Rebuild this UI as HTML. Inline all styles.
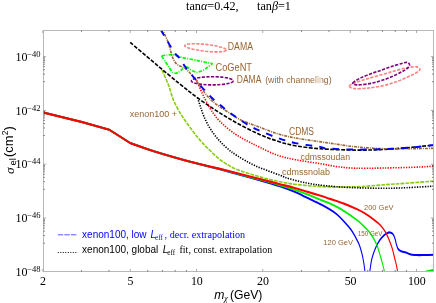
<!DOCTYPE html><html><head><meta charset="utf-8"><title>plot</title><style>html,body{margin:0;padding:0;background:#fff}svg{display:block}text{white-space:pre}.s{font-family:"Liberation Serif",serif}.h{font-family:"Liberation Sans",sans-serif}.b{fill:#996633}</style></head><body>
<svg width="436" height="303" viewBox="0 0 436 303">
<rect width="436" height="303" fill="#fff"/>
<defs><clipPath id="c"><rect x="43.50" y="30.50" width="390.00" height="241.00"/></clipPath></defs>
<g clip-path="url(#c)" fill="none" stroke-linejoin="round">
<path d="M226.27 50.09C226.25 50.27 226.15 50.44 225.96 50.59C225.77 50.75 225.49 50.89 225.14 51.03C224.79 51.16 224.35 51.28 223.84 51.38C223.33 51.48 222.74 51.57 222.09 51.64C221.43 51.71 220.71 51.77 219.93 51.81C219.15 51.85 218.30 51.88 217.41 51.88C216.52 51.89 215.57 51.88 214.60 51.85C213.62 51.83 212.60 51.78 211.56 51.72C210.53 51.66 209.45 51.59 208.38 51.50C207.31 51.41 206.21 51.30 205.13 51.18C204.04 51.06 202.95 50.92 201.88 50.78C200.81 50.63 199.75 50.47 198.73 50.31C197.70 50.14 196.69 49.96 195.74 49.77C194.78 49.58 193.85 49.39 192.99 49.19C192.12 48.99 191.30 48.78 190.55 48.57C189.79 48.36 189.10 48.14 188.47 47.93C187.85 47.72 187.30 47.50 186.82 47.29C186.35 47.08 185.94 46.87 185.63 46.66C185.31 46.46 185.07 46.26 184.92 46.06C184.77 45.87 184.71 45.68 184.73 45.51C184.75 45.33 184.85 45.16 185.04 45.01C185.23 44.85 185.51 44.71 185.86 44.57C186.21 44.44 186.65 44.32 187.16 44.22C187.67 44.12 188.26 44.03 188.91 43.96C189.57 43.89 190.29 43.83 191.07 43.79C191.85 43.75 192.70 43.72 193.59 43.72C194.48 43.71 195.43 43.72 196.40 43.75C197.38 43.77 198.40 43.82 199.44 43.88C200.47 43.94 201.55 44.01 202.62 44.10C203.69 44.19 204.79 44.30 205.87 44.42C206.96 44.54 208.05 44.68 209.12 44.82C210.19 44.97 211.25 45.13 212.27 45.29C213.30 45.46 214.31 45.64 215.26 45.83C216.22 46.02 217.15 46.21 218.01 46.41C218.88 46.61 219.70 46.82 220.45 47.03C221.21 47.24 221.90 47.46 222.53 47.67C223.15 47.88 223.70 48.10 224.18 48.31C224.65 48.52 225.06 48.73 225.37 48.94C225.69 49.14 225.93 49.34 226.08 49.54C226.23 49.73 226.29 49.92 226.27 50.09Z" stroke="#ff8080" stroke-width="1.6" stroke-dasharray="3.2 1.4"/>
<path d="M349.30 86.10C349.30 85.17 351.58 84.20 354.50 83.00C357.42 81.80 362.33 80.27 366.80 78.90C371.27 77.53 376.48 76.18 381.30 74.80C386.12 73.42 391.23 71.82 395.70 70.60C400.17 69.38 404.65 68.12 408.10 67.50C411.55 66.88 414.43 66.62 416.40 66.90C418.37 67.18 419.90 68.23 419.90 69.20C419.90 70.17 418.37 71.43 416.40 72.70C414.43 73.97 411.55 75.25 408.10 76.80C404.65 78.35 400.17 80.45 395.70 82.00C391.23 83.55 386.12 85.07 381.30 86.10C376.48 87.13 371.27 87.78 366.80 88.20C362.33 88.62 357.42 88.95 354.50 88.60C351.58 88.25 349.30 87.03 349.30 86.10Z" stroke="#ff8080" stroke-width="1.6" stroke-dasharray="3.2 1.4"/>
<path d="M233.20 80.80C233.20 81.01 233.11 81.23 232.94 81.44C232.77 81.65 232.51 81.86 232.18 82.07C231.84 82.27 231.42 82.47 230.92 82.66C230.43 82.85 229.85 83.04 229.21 83.21C228.57 83.38 227.85 83.55 227.08 83.70C226.31 83.85 225.47 83.99 224.58 84.12C223.70 84.24 222.76 84.36 221.79 84.45C220.82 84.55 219.79 84.63 218.76 84.70C217.72 84.77 216.65 84.82 215.57 84.85C214.49 84.88 213.39 84.90 212.30 84.90C211.21 84.90 210.11 84.88 209.03 84.85C207.95 84.82 206.88 84.77 205.84 84.70C204.81 84.63 203.78 84.55 202.81 84.45C201.84 84.36 200.90 84.24 200.02 84.12C199.13 83.99 198.29 83.85 197.52 83.70C196.75 83.55 196.03 83.38 195.39 83.21C194.75 83.04 194.17 82.85 193.68 82.66C193.18 82.47 192.76 82.27 192.42 82.07C192.09 81.86 191.83 81.65 191.66 81.44C191.49 81.23 191.40 81.01 191.40 80.80C191.40 80.59 191.49 80.37 191.66 80.16C191.83 79.95 192.09 79.74 192.42 79.53C192.76 79.33 193.18 79.13 193.68 78.94C194.17 78.75 194.75 78.56 195.39 78.39C196.03 78.22 196.75 78.05 197.52 77.90C198.29 77.75 199.13 77.61 200.02 77.48C200.90 77.36 201.84 77.24 202.81 77.15C203.78 77.05 204.81 76.97 205.84 76.90C206.88 76.83 207.95 76.78 209.03 76.75C210.11 76.72 211.21 76.70 212.30 76.70C213.39 76.70 214.49 76.72 215.57 76.75C216.65 76.78 217.72 76.83 218.76 76.90C219.79 76.97 220.82 77.05 221.79 77.15C222.76 77.24 223.70 77.36 224.58 77.48C225.47 77.61 226.31 77.75 227.08 77.90C227.85 78.05 228.57 78.22 229.21 78.39C229.85 78.56 230.43 78.75 230.92 78.94C231.42 79.13 231.84 79.33 232.18 79.53C232.51 79.74 232.77 79.95 232.94 80.16C233.11 80.37 233.20 80.59 233.20 80.80Z" stroke="#800080" stroke-width="1.6" stroke-dasharray="3.2 1.4"/>
<path d="M352.80 83.00C353.65 81.87 357.57 79.45 360.60 77.90C363.63 76.35 367.55 74.98 371.00 73.70C374.45 72.42 377.87 71.40 381.30 70.20C384.73 69.00 388.17 67.63 391.60 66.50C395.03 65.37 399.32 64.08 401.90 63.40C404.48 62.72 405.82 62.15 407.10 62.40C408.38 62.65 409.60 63.87 409.60 64.90C409.60 65.93 408.38 67.47 407.10 68.60C405.82 69.73 404.48 70.33 401.90 71.70C399.32 73.07 395.03 75.32 391.60 76.80C388.17 78.28 384.73 79.50 381.30 80.60C377.87 81.70 374.45 82.72 371.00 83.40C367.55 84.08 363.18 84.48 360.60 84.70C358.02 84.92 356.80 84.98 355.50 84.70C354.20 84.42 351.95 84.13 352.80 83.00Z" stroke="#800080" stroke-width="1.6" stroke-dasharray="3.2 1.4"/>
<path d="M161.70 55.80C161.96 55.64 166.32 55.06 167.00 55.00C167.68 54.94 172.06 54.64 173.00 54.80C173.94 54.96 181.28 57.26 182.70 57.60C184.12 57.94 194.94 60.06 196.60 60.40C198.26 60.74 209.47 63.00 210.40 63.20C211.33 63.40 212.26 63.45 212.10 63.70C211.94 63.95 208.30 66.87 207.70 67.30C207.10 67.73 202.77 70.49 202.10 70.80C201.43 71.11 197.18 72.40 196.60 72.40C196.02 72.40 192.94 71.11 192.40 70.80C191.86 70.49 188.06 67.55 187.60 67.30C187.14 67.05 185.14 66.47 184.80 66.60C184.46 66.73 182.37 69.06 182.00 69.40C181.63 69.74 178.97 71.97 178.60 72.20C178.23 72.43 176.18 73.30 175.80 73.30C175.42 73.30 172.71 72.56 172.30 72.20C171.89 71.84 169.31 67.92 168.90 67.30C168.49 66.68 165.78 62.38 165.40 61.80C165.02 61.22 162.82 57.96 162.60 57.60C162.38 57.24 161.44 55.96 161.70 55.80Z" stroke="#00ff00" stroke-width="1.7" stroke-dasharray="3.5 1.3 1 1.3"/>
<path d="M162.00 70.00C163.07 72.47 166.47 79.72 168.40 84.80C170.33 89.88 171.50 95.57 173.60 100.50C175.70 105.43 178.40 110.10 181.00 114.40C183.60 118.70 186.28 122.30 189.20 126.30C192.12 130.30 195.42 134.73 198.50 138.40C201.58 142.07 204.37 144.98 207.70 148.30C211.03 151.62 215.17 155.55 218.50 158.30C221.83 161.05 224.62 162.92 227.70 164.80C230.78 166.68 232.38 167.80 237.00 169.60C241.62 171.40 249.90 173.93 255.40 175.60C260.90 177.27 265.90 178.57 270.00 179.60C274.10 180.63 276.92 181.18 280.00 181.80C283.08 182.42 286.18 182.90 288.50 183.30C290.82 183.70 290.70 183.82 293.90 184.20C297.10 184.58 303.08 185.20 307.70 185.60C312.32 186.00 316.22 186.37 321.60 186.60C326.98 186.83 335.27 186.97 340.00 187.00C344.73 187.03 346.32 186.88 350.00 186.80C353.68 186.72 356.40 186.83 362.10 186.50C367.80 186.17 376.82 185.35 384.20 184.80C391.58 184.25 397.93 183.83 406.40 183.20C414.87 182.57 430.23 181.37 435.00 181.00" stroke="#88cc11" stroke-width="1.6" stroke-dasharray="3.8 1.1"/>
<path d="M197.60 97.90C198.05 99.28 199.23 103.08 200.30 106.20C201.37 109.32 202.45 113.02 204.00 116.60C205.55 120.18 207.43 124.15 209.60 127.70C211.77 131.25 214.23 134.62 217.00 137.90C219.77 141.18 222.87 144.45 226.20 147.40C229.53 150.35 232.13 152.53 237.00 155.60C241.87 158.67 248.23 162.53 255.40 165.80C262.57 169.07 274.48 173.08 280.00 175.20C285.52 177.32 284.00 177.18 288.50 178.50C293.00 179.82 300.85 181.90 307.00 183.10C313.15 184.30 318.23 184.97 325.40 185.70C332.57 186.43 340.20 187.07 350.00 187.50C359.80 187.93 374.80 188.27 384.20 188.30C393.60 188.33 397.93 188.07 406.40 187.70C414.87 187.33 430.23 186.37 435.00 186.10" stroke="#000" stroke-width="1.6" stroke-dasharray="1.3 1.3"/>
<path d="M196.60 80.30C197.53 82.47 200.58 89.77 202.20 93.30C203.82 96.83 204.77 98.63 206.30 101.50C207.83 104.37 209.00 107.05 211.40 110.50C213.80 113.95 216.70 118.25 220.70 122.20C224.70 126.15 230.78 130.97 235.40 134.20C240.02 137.43 244.30 139.40 248.40 141.60C252.50 143.80 255.23 145.15 260.00 147.40C264.77 149.65 271.10 153.05 277.00 155.10C282.90 157.15 288.23 158.28 295.40 159.70C302.57 161.12 313.07 162.45 320.00 163.60C326.93 164.75 331.10 165.83 337.00 166.60C342.90 167.37 347.53 167.97 355.40 168.20C363.27 168.43 373.32 168.20 384.20 168.00C395.08 167.80 412.32 167.35 420.70 167.00C429.08 166.65 432.20 166.08 434.50 165.90" stroke="#ff0000" stroke-width="1.6" stroke-dasharray="1.3 1.3"/>
<path d="M130.20 42.40C134.33 45.90 146.85 56.57 155.00 63.40C163.15 70.23 172.00 77.65 179.10 83.40C186.20 89.15 191.28 93.28 197.60 97.90C203.92 102.52 210.70 107.05 217.00 111.10C223.30 115.15 228.48 118.38 235.40 122.20C242.32 126.02 251.57 130.87 258.50 134.00C265.43 137.13 270.85 139.05 277.00 141.00C283.15 142.95 288.23 144.40 295.40 145.70C302.57 147.00 310.00 148.07 320.00 148.80C330.00 149.53 344.78 149.98 355.40 150.10C366.02 150.22 374.35 149.97 383.70 149.50C393.05 149.03 403.03 148.05 411.50 147.30C419.97 146.55 430.67 145.38 434.50 145.00" stroke="#000" stroke-width="1.6" stroke-dasharray="3.9 1.5"/>
<path d="M161.50 29.00C162.00 29.83 163.45 31.92 164.50 34.00C165.55 36.08 166.95 39.33 167.80 41.50C168.65 43.67 169.03 45.08 169.60 47.00C170.17 48.92 170.55 50.92 171.20 53.00C171.85 55.08 172.62 57.70 173.50 59.50C174.38 61.30 175.33 62.67 176.50 63.80C177.67 64.93 179.13 65.60 180.50 66.30C181.87 67.00 183.12 66.88 184.70 68.00C186.28 69.12 188.15 71.02 190.00 73.00C191.85 74.98 194.38 78.07 195.80 79.90C197.22 81.73 196.52 81.23 198.50 84.00C200.48 86.77 204.62 93.03 207.70 96.50C210.78 99.97 213.30 102.00 217.00 104.80C220.70 107.60 225.90 110.75 229.90 113.30C233.90 115.85 236.23 117.85 241.00 120.10C245.77 122.35 252.50 124.55 258.50 126.80C264.50 129.05 270.85 131.73 277.00 133.60C283.15 135.47 288.48 136.68 295.40 138.00C302.32 139.32 311.57 140.47 318.50 141.50C325.43 142.53 330.85 143.32 337.00 144.20C343.15 145.08 347.62 146.05 355.40 146.80C363.18 147.55 374.35 148.38 383.70 148.70C393.05 149.02 403.03 148.77 411.50 148.70C419.97 148.63 430.67 148.37 434.50 148.30" stroke="#996633" stroke-width="1.6" stroke-dasharray="2.9 1 1 1"/>
<path d="M160.30 29.00C161.65 31.30 165.88 38.65 168.40 42.80C170.92 46.95 173.62 51.43 175.40 53.90C177.18 56.37 177.40 55.38 179.10 57.60C180.80 59.82 182.98 63.72 185.60 67.20C188.22 70.68 191.73 74.77 194.80 78.50C197.87 82.23 200.92 86.13 204.00 89.60C207.08 93.07 209.90 96.15 213.30 99.30C216.70 102.45 220.72 105.62 224.40 108.50C228.08 111.38 231.72 114.02 235.40 116.60C239.08 119.18 242.65 121.73 246.50 124.00C250.35 126.27 253.42 127.92 258.50 130.20C263.58 132.48 270.85 135.55 277.00 137.70C283.15 139.85 288.23 141.57 295.40 143.10C302.57 144.63 314.62 146.00 320.00 146.90C325.38 147.80 321.80 148.05 327.70 148.50C333.60 148.95 346.07 149.50 355.40 149.60C364.73 149.70 374.35 149.45 383.70 149.10C393.05 148.75 403.03 148.18 411.50 147.50C419.97 146.82 430.67 145.42 434.50 145.00" stroke="#0000ff" stroke-width="1.9" stroke-dasharray="6.6 7.1" stroke-dashoffset="12.7"/>
<path d="M87.00 112.60L163.20 121.90L218.60 129.70L260.40 143.10C266.23 144.12 283.40 147.22 295.40 149.20C307.40 151.18 318.53 152.95 332.40 155.00C346.27 157.05 360.67 159.12 378.60 161.50C396.53 163.88 419.77 166.63 440.00 169.30C460.23 171.97 483.33 175.17 500.00 177.50C516.67 179.83 530.00 181.83 540.00 183.30C550.00 184.77 552.03 184.92 560.00 186.30C567.97 187.68 578.57 189.63 587.80 191.60C597.03 193.57 606.17 195.90 615.40 198.10C624.63 200.30 635.77 202.88 643.20 204.80C650.63 206.72 654.90 208.00 660.00 209.60C665.10 211.20 669.17 212.45 673.80 214.40C678.43 216.35 683.17 218.80 687.80 221.30C692.43 223.80 697.77 226.80 701.60 229.40C705.43 232.00 708.10 234.48 710.80 236.90C713.50 239.32 715.73 241.35 717.80 243.90C719.87 246.45 721.70 249.43 723.20 252.20C724.70 254.97 725.83 257.87 726.80 260.50C727.77 263.13 728.40 265.75 729.00 268.00C729.60 270.25 730.17 273.00 730.40 274.00" stroke="#0000ff" stroke-width="2.05" transform="scale(0.5 1)"/>
<path d="M739.00 274.00C739.27 273.00 739.93 270.25 740.60 268.00C741.27 265.75 741.97 262.90 743.00 260.50C744.03 258.10 745.23 255.92 746.80 253.60C748.37 251.28 750.33 248.80 752.40 246.60C754.47 244.40 756.67 242.25 759.20 240.40C761.73 238.55 765.03 236.73 767.60 235.50C770.17 234.27 772.53 233.52 774.60 233.00C776.67 232.48 778.17 232.25 780.00 232.40C781.83 232.55 783.97 232.92 785.60 233.90C787.23 234.88 788.63 236.63 789.80 238.30C790.97 239.97 791.60 242.18 792.60 243.90C793.60 245.62 794.37 247.40 795.80 248.60C797.23 249.80 798.57 250.45 801.20 251.10C803.83 251.75 808.80 252.03 811.60 252.50C814.40 252.97 815.87 253.52 818.00 253.90C820.13 254.28 821.60 254.60 824.40 254.80C827.20 255.00 830.60 255.07 834.80 255.10C839.00 255.13 844.07 255.05 849.60 255.00C855.13 254.95 864.93 254.83 868.00 254.80" stroke="#0000ff" stroke-width="2.05" transform="scale(0.5 1)"/>
<path d="M87.00 112.60L163.20 121.90L218.60 129.70L260.40 143.10C266.23 144.12 283.40 147.22 295.40 149.20C307.40 151.18 318.53 152.95 332.40 155.00C346.27 157.05 360.67 159.15 378.60 161.50C396.53 163.85 419.77 166.53 440.00 169.10C460.23 171.67 483.33 174.70 500.00 176.90C516.67 179.10 530.00 180.92 540.00 182.30C550.00 183.68 552.03 184.00 560.00 185.20C567.97 186.40 578.57 187.93 587.80 189.50C597.03 191.07 606.17 192.82 615.40 194.60C624.63 196.38 635.77 198.70 643.20 200.20C650.63 201.70 652.57 201.82 660.00 203.60C667.43 205.38 678.57 208.07 687.80 210.90C697.03 213.73 708.50 217.90 715.40 220.60C722.30 223.30 725.57 225.33 729.20 227.10C732.83 228.87 734.50 229.57 737.20 231.20C739.90 232.83 742.63 234.57 745.40 236.90C748.17 239.23 751.50 242.42 753.80 245.20C756.10 247.98 757.37 250.58 759.20 253.60C761.03 256.62 763.30 260.57 764.80 263.30C766.30 266.03 767.33 268.22 768.20 270.00C769.07 271.78 769.70 273.33 770.00 274.00" stroke="#00ee00" stroke-width="2.05" transform="scale(0.5 1)"/>
<path d="M422.5 271.50L434 268.80V271.50Z" fill="#00dd00" stroke="none"/>
<path d="M87.00 112.60L163.20 121.90L218.60 129.70L260.40 143.10C266.23 144.12 283.40 147.22 295.40 149.20C307.40 151.18 318.53 152.95 332.40 155.00C346.27 157.05 360.67 159.18 378.60 161.50C396.53 163.82 419.77 166.40 440.00 168.90C460.23 171.40 483.33 174.38 500.00 176.50C516.67 178.62 530.00 180.32 540.00 181.60C550.00 182.88 552.03 183.18 560.00 184.20C567.97 185.22 578.57 186.42 587.80 187.70C597.03 188.98 606.17 190.52 615.40 191.90C624.63 193.28 635.77 194.83 643.20 196.00C650.63 197.17 652.57 197.63 660.00 198.90C667.43 200.17 678.57 201.83 687.80 203.60C697.03 205.37 708.37 207.85 715.40 209.50C722.43 211.15 725.37 212.10 730.00 213.50C734.63 214.90 738.70 216.25 743.20 217.90C747.70 219.55 753.17 221.63 757.00 223.40C760.83 225.17 763.50 226.68 766.20 228.50C768.90 230.32 771.13 232.32 773.20 234.30C775.27 236.28 776.77 238.12 778.60 240.40C780.43 242.68 782.57 245.35 784.20 248.00C785.83 250.65 787.00 253.53 788.40 256.30C789.80 259.07 791.50 262.15 792.60 264.60C793.70 267.05 794.43 269.43 795.00 271.00C795.57 272.57 795.83 273.50 796.00 274.00" stroke="#ff0000" stroke-width="2.1" transform="scale(0.5 1)"/>
</g>
<rect x="43.50" y="30.50" width="390.00" height="241.00" fill="none" stroke="#b8b8b8" stroke-width="1" shape-rendering="crispEdges"/>
<path d="M42.76 271.50v-2.6M42.76 30.50v2.6M130.30 271.50v-2.6M130.30 30.50v2.6M196.53 271.50v-2.6M196.53 30.50v2.6M262.76 271.50v-2.6M262.76 30.50v2.6M350.30 271.50v-2.6M350.30 30.50v2.6M416.53 271.50v-2.6M416.53 30.50v2.6M43.50 218.06h2.6M433.50 218.06h-2.6M43.50 164.24h2.6M433.50 164.24h-2.6M43.50 110.42h2.6M433.50 110.42h-2.6M43.50 56.60h2.6M433.50 56.60h-2.6" stroke="#888" stroke-width="0.7" fill="none"/>
<path d="M81.50 271.50v-1.6M81.50 30.50v1.6M108.98 271.50v-1.6M108.98 30.50v1.6M147.72 271.50v-1.6M147.72 30.50v1.6M162.45 271.50v-1.6M162.45 30.50v1.6M175.21 271.50v-1.6M175.21 30.50v1.6M186.46 271.50v-1.6M186.46 30.50v1.6M301.50 271.50v-1.6M301.50 30.50v1.6M328.98 271.50v-1.6M328.98 30.50v1.6M367.72 271.50v-1.6M367.72 30.50v1.6M382.45 271.50v-1.6M382.45 30.50v1.6M395.21 271.50v-1.6M395.21 30.50v1.6M406.46 271.50v-1.6M406.46 30.50v1.6M43.50 243.16h1.5M433.50 243.16h-1.5M43.50 235.60h1.5M433.50 235.60h-1.5M43.50 231.18h1.5M433.50 231.18h-1.5M43.50 228.05h1.5M433.50 228.05h-1.5M43.50 225.62h1.5M433.50 225.62h-1.5M43.50 223.63h1.5M433.50 223.63h-1.5M43.50 221.95h1.5M433.50 221.95h-1.5M43.50 220.49h1.5M433.50 220.49h-1.5M43.50 219.21h1.5M433.50 219.21h-1.5M43.50 189.34h1.5M433.50 189.34h-1.5M43.50 181.78h1.5M433.50 181.78h-1.5M43.50 177.36h1.5M433.50 177.36h-1.5M43.50 174.23h1.5M433.50 174.23h-1.5M43.50 171.80h1.5M433.50 171.80h-1.5M43.50 169.81h1.5M433.50 169.81h-1.5M43.50 168.13h1.5M433.50 168.13h-1.5M43.50 166.67h1.5M433.50 166.67h-1.5M43.50 165.39h1.5M433.50 165.39h-1.5M43.50 135.52h1.5M433.50 135.52h-1.5M43.50 127.96h1.5M433.50 127.96h-1.5M43.50 123.54h1.5M433.50 123.54h-1.5M43.50 120.41h1.5M433.50 120.41h-1.5M43.50 117.98h1.5M433.50 117.98h-1.5M43.50 115.99h1.5M433.50 115.99h-1.5M43.50 114.31h1.5M433.50 114.31h-1.5M43.50 112.85h1.5M433.50 112.85h-1.5M43.50 111.57h1.5M433.50 111.57h-1.5M43.50 81.70h1.5M433.50 81.70h-1.5M43.50 74.14h1.5M433.50 74.14h-1.5M43.50 69.72h1.5M433.50 69.72h-1.5M43.50 66.59h1.5M433.50 66.59h-1.5M43.50 64.16h1.5M433.50 64.16h-1.5M43.50 62.17h1.5M433.50 62.17h-1.5M43.50 60.49h1.5M433.50 60.49h-1.5M43.50 59.03h1.5M433.50 59.03h-1.5M43.50 57.75h1.5M433.50 57.75h-1.5" stroke="#333" stroke-width="0.6" fill="none"/>
<g class="s" font-size="12.2" fill="#000"><text x="186" y="10.3">tan<tspan font-style="italic">α</tspan>=0.42,</text><text x="257" y="10.3">tan<tspan font-style="italic">β</tspan>=1</text></g>
<g class="s" fill="#000">
<text x="15.6" y="60.80" font-size="12">10</text><text x="27.2" y="56.70" font-size="8.5">−40</text>
<text x="15.6" y="114.62" font-size="12">10</text><text x="27.2" y="110.52" font-size="8.5">−42</text>
<text x="15.6" y="168.44" font-size="12">10</text><text x="27.2" y="164.34" font-size="8.5">−44</text>
<text x="15.6" y="222.26" font-size="12">10</text><text x="27.2" y="218.16" font-size="8.5">−46</text>
<text x="15.6" y="276.08" font-size="12">10</text><text x="27.2" y="271.98" font-size="8.5">−48</text>
<text x="43.06" y="284.8" font-size="11.9" text-anchor="middle">2</text>
<text x="130.60" y="284.8" font-size="11.9" text-anchor="middle">5</text>
<text x="196.83" y="284.8" font-size="11.9" text-anchor="middle">10</text>
<text x="263.06" y="284.8" font-size="11.9" text-anchor="middle">20</text>
<text x="350.60" y="284.8" font-size="11.9" text-anchor="middle">50</text>
<text x="416.83" y="284.8" font-size="11.9" text-anchor="middle">100</text>
</g>
<g fill="#000"><text class="h" x="214.2" y="299.4" font-size="12.2" font-style="italic">m</text><text class="s" x="224" y="300.6" font-size="8.5" font-style="italic">χ</text><text class="h" x="229.9" y="299.4" font-size="12.2">(GeV)</text></g>
<g fill="#000" transform="translate(13.6 173.6) rotate(-90)"><text class="s" x="-0.4" y="0.2" font-size="13.5" font-style="italic">σ</text><text class="h" x="8.2" y="2.2" font-size="9.5">el</text><text class="h" x="16.6" y="-0.9" font-size="12.9">(cm</text><text class="h" x="38.3" y="-5.8" font-size="8.5">2</text><text class="h" x="43.2" y="-0.9" font-size="12.9">)</text></g>
<text class="h b" x="227.8" y="49.7" font-size="10" textLength="25.2" lengthAdjust="spacingAndGlyphs">DAMA</text>
<text class="h b" x="215.5" y="70.7" font-size="10" textLength="36.5" lengthAdjust="spacingAndGlyphs">CoGeNT</text>
<text class="h b" x="236.8" y="82.6" font-size="10" textLength="24.6" lengthAdjust="spacingAndGlyphs">DAMA</text>
<text class="h b" x="265.2" y="82.6" font-size="9.2" textLength="66.4" lengthAdjust="spacingAndGlyphs">(with channeling)</text>
<rect x="315.6" y="76.8" width="5.6" height="6.4" fill="#efe4d6" fill-opacity="0.8"/>
<text class="h b" x="129.8" y="117.2" font-size="9.4" textLength="47.2" lengthAdjust="spacingAndGlyphs">xenon100 +</text>
<text class="h b" x="289.0" y="134.6" font-size="10" textLength="25.0" lengthAdjust="spacingAndGlyphs">CDMS</text>
<text class="h b" x="300.6" y="160.2" font-size="9.2" textLength="49.4" lengthAdjust="spacingAndGlyphs">cdmssoudan</text>
<text class="h b" x="282.0" y="175.1" font-size="9.2" textLength="48.0" lengthAdjust="spacingAndGlyphs">cdmssnolab</text>
<text class="h b" x="364.0" y="210.0" font-size="8" textLength="29.6" lengthAdjust="spacingAndGlyphs">200 GeV</text>
<text class="h b" x="357.7" y="236.3" font-size="6.8" textLength="24.8" lengthAdjust="spacingAndGlyphs">150 GeV</text>
<text class="h b" x="323.3" y="245.0" font-size="8" textLength="29.6" lengthAdjust="spacingAndGlyphs">120 GeV</text>
<path d="M57.8 234.8H76.4" stroke="#4444ff" stroke-width="0.9" stroke-dasharray="5.4 1.2" fill="none"/>
<path d="M57.8 252.5H76.4" stroke="#000" stroke-width="1" stroke-dasharray="1 1.5" fill="none"/>
<g fill="#0000ff"><text class="h" x="82.1" y="237.5" font-size="10">xenon100, low</text><text class="h" x="150.6" y="237.5" font-size="10" font-style="italic">L</text><text class="s" x="155" y="239.6" font-size="7.2">eff</text><text class="s" x="164.6" y="237.5" font-size="10" textLength="80.6" lengthAdjust="spacingAndGlyphs">, decr. extrapolation</text></g>
<g fill="#000"><text class="h" x="82.1" y="253.2" font-size="10">xenon100, global</text><text class="h" x="162.8" y="253.2" font-size="10" font-style="italic">L</text><text class="s" x="167.2" y="255.3" font-size="7.2">eff</text><text class="s" x="179.5" y="253.2" font-size="10" textLength="92.7" lengthAdjust="spacingAndGlyphs">fit, const. extrapolation</text></g>
</svg></body></html>
